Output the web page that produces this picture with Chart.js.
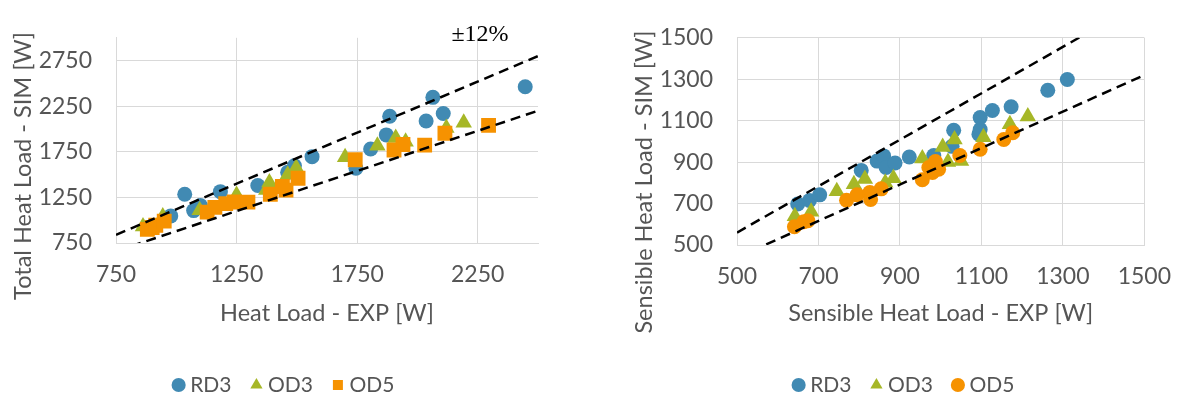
<!DOCTYPE html>
<html>
<head>
<meta charset="utf-8">
<script src="https://cdn.jsdelivr.net/npm/chart.js@4.4.1/dist/chart.umd.min.js"></script>
<style>
  html, body { margin: 0; padding: 0; background: #fff; overflow: hidden; width: 1189px; height: 398px; }
  canvas { position: absolute; top: 0; }
  #totalChart { left: 0; }
  #sensibleChart { left: 623px; }
</style>
</head>
<body>
<canvas id="totalChart" width="572" height="410"></canvas>
<canvas id="sensibleChart" width="566" height="410"></canvas>
<script>
// total heat load, [EXP, SIM] in W
const rd3Total = [[977,1047],[1035,1285],[1072,1105],[1100,1160],[1183,1313],[1338,1380],[1462,1525],[1490,1597],[1563,1697],
  [1745,1570],[1806,1780],[1871,1935],[1885,2140],[2036,2087],[2064,2347],[2107,2170],[2447,2463]];
const od3Total = [[862,930],[944,1040],[1097,1110],[1250,1275],[1373,1330],[1386,1413],[1462,1497],[1497,1575],[1700,1690],
  [1834,1815],[1910,1900],[1951,1860],[2120,2010],[2192,2068]];
const od5Total = [[880,900],[900,920],[915,945],[950,990],[1128,1088],[1160,1140],[1205,1182],[1240,1200],[1297,1198],
  [1390,1285],[1440,1370],[1455,1330],[1505,1460],[1742,1663],[1903,1770],[1940,1830],[2030,1823],[2114,1953],[2295,2040]];

// sensible heat load, [EXP, SIM] in W
const rd3Sensible = [[649,698],[678,715],[703,742],[805,860],[844,905],[860,930],[866,874],[888,896],[923,925],[983,932],
  [1028,976],[1032,1054],[1094,1035],[1097,1057],[1097,1115],[1127,1149],[1173,1167],[1263,1247],[1311,1299]];
const od3Sensible = [[642,639],[682,661],[745,760],[787,793],[814,818],[864,800],[884,822],[955,918],[1005,973],[1018,900],
  [1034,1009],[1050,906],[1105,1020],[1170,1083],[1214,1120]];
const od5Sensible = [[641,588],[664,612],[674,617],[769,716],[795,742],[826,753],[828,720],[854,771],[955,815],[971,874],
  [980,850],[995,866],[987,903],[1047,932],[1097,962],[1155,1009],[1177,1042]];

// +/-12% band end points
const bandTotalUpper = [[750,840],[2500,2800]];
const bandTotalLower = [[750,660],[2500,2200]];
const bandSensibleUpper = [[500,560],[1500,1680]];
const bandSensibleLower = [[500,440],[1500,1320]];

const totalTicks = [750, 1250, 1750, 2250, 2750];
const sensibleTicks = [500, 700, 900, 1100, 1300, 1500];

const BLUE = '#418AB3', GREEN = '#A6B727', ORANGE = '#F69200';
const GREY_TEXT = '#555555', GRID = '#d9d9d9';

Chart.defaults.font.family = 'Lato, "Open Sans", sans-serif';
Chart.defaults.color = GREY_TEXT;

const toPoints = arr => arr.map(p => ({ x: p[0], y: p[1] }));

function freeLabels(items) {
  return {
    id: 'freeLabels',
    afterDraw(chart) {
      const ctx = chart.ctx;
      items.forEach(item => {
        ctx.save();
        ctx.translate(item.x, item.y);
        ctx.rotate(item.rotation || 0);
        ctx.font = item.font;
        ctx.fillStyle = item.color;
        ctx.textAlign = 'center';
        ctx.textBaseline = 'middle';
        ctx.fillText(item.text, 0, 0);
        ctx.restore();
      });
    }
  };
}

function bandLine(points) {
  return {
    label: '', data: toPoints(points), showLine: true, pointRadius: 0,
    borderColor: '#000', borderWidth: 2.5, borderDash: [10, 6], order: 0
  };
}

function marker(label, points, color, style, radius, order) {
  return {
    label, data: toPoints(points), pointStyle: style, pointRadius: radius, pointHoverRadius: radius,
    backgroundColor: color, borderColor: color, borderWidth: 0, order
  };
}

function makeChart(id, opts) {
  const ticksFixed = values => scale => { scale.ticks = values.map(v => ({ value: v })); };
  new Chart(document.getElementById(id), {
    type: 'scatter',
    data: { datasets: opts.datasets },
    plugins: [freeLabels(opts.labels)],
    options: {
      responsive: false,
      animation: false,
      layout: { padding: { top: 17, bottom: 4.5, left: 0, right: 0 } },
      scales: {
        x: {
          min: opts.xRange[0], max: opts.xRange[1],
          afterBuildTicks: ticksFixed(opts.xTicks),
          afterFit: s => { s.height = opts.xAxisHeight; },
          grid: { color: GRID, drawTicks: false },
          border: { color: GRID },
          ticks: { font: { size: 23 }, padding: 18, callback: v => String(v) },
          title: { display: true, text: opts.xTitle, font: { size: 23.5 }, padding: { top: 0, bottom: 23 } }
        },
        y: {
          min: opts.yRange[0], max: opts.yRange[1],
          afterBuildTicks: ticksFixed(opts.yTicks),
          afterFit: s => { s.width = opts.yAxisWidth; },
          grid: { color: GRID, drawTicks: false },
          border: { color: GRID },
          ticks: { font: { size: 23 }, padding: 24, callback: v => String(v) }
        },
        spare: {
          type: 'linear', position: 'right', min: 0, max: 1,
          afterFit: s => { s.width = opts.rightGap; },
          grid: { display: false }, border: { display: false }, ticks: { display: false }
        }
      },
      plugins: {
        tooltip: { enabled: false },
        legend: {
          position: 'bottom',
          labels: {
            usePointStyle: true, boxWidth: 2, boxHeight: 10, padding: 24,
            font: { size: 21 }, color: GREY_TEXT,
            filter: item => item.text !== '',
            sort: (a, b) => a.datasetIndex - b.datasetIndex
          }
        }
      }
    }
  });
}

makeChart('totalChart', {
  datasets: [
    marker('RD3', rd3Total, BLUE, 'circle', 7.5, 3),
    marker('OD3', od3Total, GREEN, 'triangle', 9.5, 2),
    marker('OD5', od5Total, ORANGE, 'rect', 10.5, 1),
    bandLine(bandTotalUpper),
    bandLine(bandTotalLower)
  ],
  xRange: [750, 2500], yRange: [750, 3000],
  xTicks: totalTicks.slice(0, 4), yTicks: totalTicks,
  xAxisHeight: 107.5, yAxisWidth: 116, rightGap: 34,
  xTitle: 'Heat Load - EXP [W]',
  labels: [
    { text: 'Total Heat Load - SIM [W]', x: 23, y: 166, rotation: -Math.PI / 2, font: '23.5px Lato', color: GREY_TEXT },
    { text: '±12%', x: 480, y: 35, font: '24px "Liberation Serif", serif', color: '#000' }
  ]
});

makeChart('sensibleChart', {
  datasets: [
    marker('RD3', rd3Sensible, BLUE, 'circle', 7.5, 3),
    marker('OD3', od3Sensible, GREEN, 'triangle', 9.5, 2),
    marker('OD5', od5Sensible, ORANGE, 'circle', 7.5, 1),
    bandLine(bandSensibleUpper),
    bandLine(bandSensibleLower)
  ],
  xRange: [500, 1500], yRange: [500, 1500],
  xTicks: sensibleTicks, yTicks: sensibleTicks,
  xAxisHeight: 105.5, yAxisWidth: 114, rightGap: 30,
  xTitle: 'Sensible Heat Load - EXP [W]',
  labels: [
    { text: 'Sensible Heat Load - SIM [W]', x: 21, y: 182, rotation: -Math.PI / 2, font: '23.5px Lato', color: GREY_TEXT }
  ]
});
</script>
</body>
</html>
